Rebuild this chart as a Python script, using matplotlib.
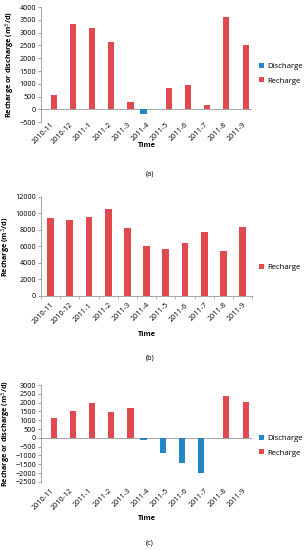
import matplotlib.pyplot as plt
import numpy as np

# datos
meses = ["2010-11", "2010-12", "2011-1", "2011-2", "2011-3", "2011-4",
         "2011-5", "2011-6", "2011-7", "2011-8", "2011-9"]

# (a)
recarga_a = [550, 3350, 3200, 2630, 290, 0, 850, 960, 170, 3600, 2520]
descarga_a = [0, 0, 0, 0, 0, -200, 0, 0, 0, 0, 0]

# (b)
recarga_b = [9450, 9250, 9600, 10550, 8200, 6000, 5650, 6450, 7750, 5450, 8400]

# (c)
recarga_c = [1150, 1550, 1970, 1480, 1700, 0, 0, 0, 0, 2350, 2050]
descarga_c = [0, 0, 0, 0, 0, -150, -850, -1430, -2020, 0, 0]

ROJO = "#E04A4E"
AZUL = "#2187C9"
GRIS = "#A6A6A6"
FS = 5.2

plt.rcParams["font.family"] = ["Open Sans", "DejaVu Sans"]

fig = plt.figure(figsize=(3.06, 5.50), dpi=100)
x = np.arange(len(meses))
w = 0.32


def estilo(ax, ylim, paso, ylabel, cero=True, pad=1):
    ax.set_xlim(-0.5, len(meses) - 0.5)
    ax.set_ylim(*ylim)
    ax.set_yticks(np.arange(ylim[0], ylim[1] + 1, paso))
    ax.tick_params(axis="y", labelsize=FS, length=2, color=GRIS, pad=1.5)
    ax.set_xticks(x)
    ax.set_xticklabels(meses, rotation=45, ha="right", rotation_mode="anchor",
                       fontsize=FS)
    ax.tick_params(axis="x", length=0, pad=pad)
    for s in ["top", "right"]:
        ax.spines[s].set_visible(False)
    ax.spines["left"].set_color(GRIS)
    ax.spines["left"].set_linewidth(0.7)
    if cero:
        ax.spines["bottom"].set_visible(False)
        ax.axhline(0, color=GRIS, lw=0.7, zorder=1)
    else:
        ax.spines["bottom"].set_color(GRIS)
        ax.spines["bottom"].set_linewidth(0.7)
        ax.set_xticks(np.arange(-0.5, len(meses)), minor=True)
        ax.tick_params(axis="x", which="minor", length=2, color=GRIS)
    ax.set_ylabel(ylabel, fontsize=FS, fontweight="bold", labelpad=1.5)


leyenda = dict(loc="center left", frameon=False, fontsize=5.6,
               handlelength=0.6, handleheight=0.6, handletextpad=0.35,
               labelspacing=0.9, borderaxespad=0)

# (a)
ax1 = fig.add_axes([0.134, 0.778, 0.690, 0.209])
ax1.bar(x - w / 2, descarga_a, w, color=AZUL, label="Discharge", zorder=2)
ax1.bar(x + w / 2, recarga_a, w, color=ROJO, label="Recharge", zorder=2)
estilo(ax1, (-500, 4000), 500, "Recharge or discharge (m$^3$/d)", pad=-1)
ax1.legend(bbox_to_anchor=(1.02, 0.42), **leyenda)

# (b)
ax2 = fig.add_axes([0.134, 0.462, 0.690, 0.180])
ax2.bar(x, recarga_b, 0.36, color=ROJO, label="Recharge", zorder=2)
estilo(ax2, (0, 12000), 2000, "Recharge (m$^3$/d)", cero=False, pad=4)
ax2.legend(bbox_to_anchor=(1.02, 0.29), **leyenda)

# (c)
ax3 = fig.add_axes([0.134, 0.124, 0.690, 0.176])
ax3.bar(x - w / 2, descarga_c, w, color=AZUL, label="Discharge", zorder=2)
ax3.bar(x + w / 2, recarga_c, w, color=ROJO, label="Recharge", zorder=2)
estilo(ax3, (-2500, 3000), 500, "Recharge or discharge (m$^3$/d)", pad=4)
ax3.legend(bbox_to_anchor=(1.02, 0.37), **leyenda)

# etiquetas de eje y subtitulos
for yy, txt in [(146, "Time"), (335, "Time"), (518, "Time")]:
    fig.text(147 / 306, 1 - yy / 550, txt, ha="center", va="center",
             fontsize=FS, fontweight="bold")
for yy, txt in [(174, "(a)"), (358, "(b)"), (543, "(c)")]:
    fig.text(150 / 306, 1 - yy / 550, txt, ha="center", va="center",
             fontsize=FS)

fig.savefig("out.png", dpi=100)
